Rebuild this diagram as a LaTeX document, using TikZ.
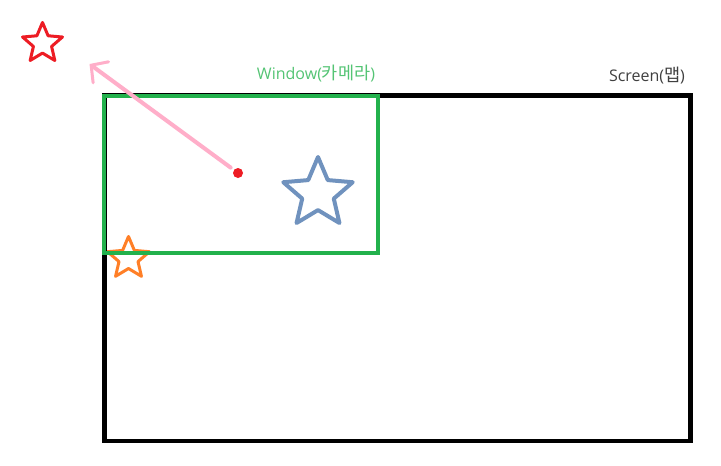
\documentclass[tikz,border=0pt]{standalone}
\usepackage{fontspec}
\setmainfont{Open Sans}
\newfontfamily\krfont{Noto Sans CJK KR}
\usetikzlibrary{shapes.geometric,arrows.meta}
\definecolor{pgreen}{RGB}{34,177,76}
\definecolor{tgreen}{RGB}{84,196,116}
\definecolor{pred}{RGB}{237,28,36}
\definecolor{porange}{RGB}{255,127,39}
\definecolor{pblue}{RGB}{112,146,190}
\definecolor{ppink}{RGB}{255,174,201}
\definecolor{tgray}{RGB}{64,64,64}
\newcommand{\hg}[1]{{\krfont\fontsize{17.5}{19}\selectfont #1}}
\tikzset{
  starshape/.style={star, star points=5, star point ratio=2.2, inner sep=0pt, draw, line join=round},
  label/.style={inner sep=0pt, font=\fontsize{16}{19}\selectfont},
}
\begin{document}
\begin{tikzpicture}[x=1pt,y=-1pt]
\useasboundingbox[fill=white] (0,0) rectangle (721,466);
% orange star (behind frames)
\node[starshape, draw=porange, line width=3pt, minimum size=44pt] (ostar) at (128.5,258.5) {};
% screen
\draw[line width=4.5pt] (104.5,95.5) rectangle (690.5,440.8);
\node[label, text=tgray] (screenlbl) at (647,76) {Screen(\hg{맵})};
% window
\draw[pgreen, line width=4pt] (104,95.5) rectangle (378,253);
\node[label, text=tgreen] (windowlbl) at (316,74) {Window(\hg{카메라})};
% stars
\node[starshape, draw=pred, line width=3pt, minimum size=42pt] (rstar) at (42.5,43.5) {};
\node[starshape, draw=pblue, line width=4pt, minimum size=73pt] (bstar) at (318,193.5) {};
% camera centre and arrow
\node[circle, fill=pred, inner sep=0pt, minimum size=10pt] (dot) at (238,173) {};
\coordinate (tip) at (89.5,64);
\draw[ppink, line width=4pt, line cap=round, shorten <=4pt,
  -{Straight Barb[length=12pt, width=26pt, line width=3pt, line cap=round]}] (dot) -- (tip);
\end{tikzpicture}
\end{document}
